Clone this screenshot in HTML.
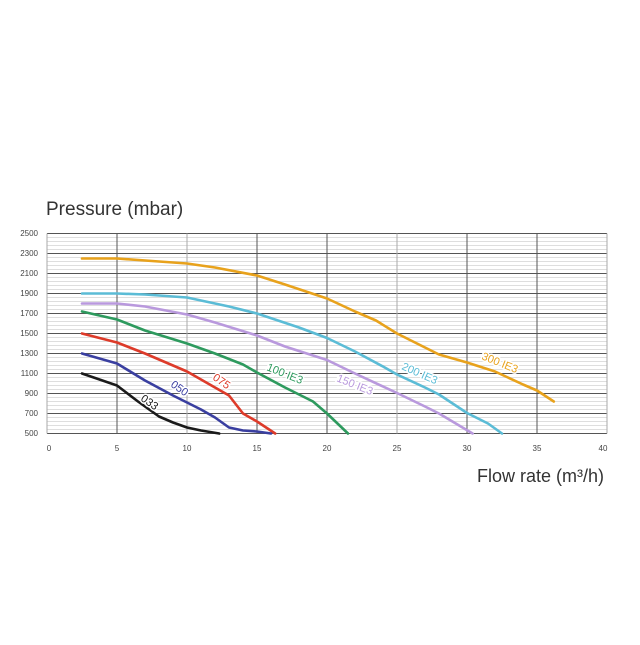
<!DOCTYPE html>
<html><head><style>
body{margin:0;background:#fff;width:640px;height:640px;overflow:hidden;font-family:"Liberation Sans",sans-serif}
</style></head><body>
<svg width="640" height="640" xmlns="http://www.w3.org/2000/svg" font-family="Liberation Sans, sans-serif">
<rect width="640" height="640" fill="#fff"/>
<text x="46" y="215" font-size="19" fill="#333">Pressure (mbar)</text>
<text x="604" y="482" font-size="18" fill="#333" text-anchor="end">Flow rate (m³/h)</text>
<g id="minor" stroke="#d4d4d4" stroke-width="0.8">
<path d="M47 237.5H607M47 241.5H607M47 245.5H607M47 249.5H607M47 257.5H607M47 261.5H607M47 265.5H607M47 269.5H607M47 277.5H607M47 281.5H607M47 285.5H607M47 289.5H607M47 297.5H607M47 301.5H607M47 305.5H607M47 309.5H607M47 317.5H607M47 321.5H607M47 325.5H607M47 329.5H607M47 337.5H607M47 341.5H607M47 345.5H607M47 349.5H607M47 357.5H607M47 361.5H607M47 365.5H607M47 369.5H607M47 377.5H607M47 381.5H607M47 385.5H607M47 389.5H607M47 397.5H607M47 401.5H607M47 405.5H607M47 409.5H607M47 417.5H607M47 421.5H607M47 425.5H607M47 429.5H607"/>
</g>
<g stroke="#555" stroke-width="1">
<path d="M47 233.5H607M47 253.5H607M47 273.5H607M47 293.5H607M47 313.5H607M47 333.5H607M47 353.5H607M47 373.5H607M47 393.5H607M47 413.5H607M47 433.5H607"/>
<path d="M117 233.5V433.5M257 233.5V433.5M327 233.5V433.5M467 233.5V433.5M537 233.5V433.5"/>
</g>
<g stroke="#aaa" stroke-width="1"><path d="M47 233.5V433.5M187 233.5V433.5M397 233.5V433.5M607 233.5V433.5"/></g>
<g font-size="8" fill="#444" text-anchor="end">
<text x="38" y="236">2500</text><text x="38" y="256">2300</text><text x="38" y="276">2100</text><text x="38" y="296">1900</text><text x="38" y="316">1700</text><text x="38" y="336">1500</text><text x="38" y="356">1300</text><text x="38" y="376">1100</text><text x="38" y="396">900</text><text x="38" y="416">700</text><text x="38" y="436">500</text>
</g>
<g font-size="8" fill="#444" text-anchor="middle">
<text x="49" y="451">0</text><text x="117" y="451">5</text><text x="187" y="451">10</text><text x="257" y="451">15</text><text x="327" y="451">20</text><text x="397" y="451">25</text><text x="467" y="451">30</text><text x="537" y="451">35</text><text x="603" y="451">40</text>
</g>
<g transform="translate(47,483.5) scale(14,-0.1)" fill="none" stroke-width="2.6" stroke-linejoin="round" stroke-linecap="round">
<polyline vector-effect="non-scaling-stroke" stroke="#e8a21c" points="2.5,2250 5,2250 8,2220 10,2200 12,2160 15,2080 17,1990 20,1850 22,1720 23.5,1630 25,1500 27,1360 28,1290 30,1210 32,1120 34,990 35,930 36.2,820"/>
<polyline vector-effect="non-scaling-stroke" stroke="#5bbcd6" points="2.5,1900 5,1900 7,1890 10,1860 13,1770 15,1700 18,1560 20,1455 22,1320 24,1170 25,1090 27,960 28,890 30,705 31.5,600 32.5,500"/>
<polyline vector-effect="non-scaling-stroke" stroke="#b999dd" points="2.5,1800 5,1800 7,1770 10,1690 12,1610 15,1480 17,1370 20,1235 22,1100 25,905 27,770 28,700 30.4,500"/>
<polyline vector-effect="non-scaling-stroke" stroke="#2e9a5e" points="2.5,1720 5,1640 7,1530 10,1400 12,1300 14,1190 15,1110 17,960 19,820 20,700 21.5,500"/>
<polyline vector-effect="non-scaling-stroke" stroke="#dd3b2a" points="2.5,1500 5,1410 7,1300 10,1120 12,960 13,880 14,700 15,620 16.3,500"/>
<polyline vector-effect="non-scaling-stroke" stroke="#3a3fa0" points="2.5,1300 5,1200 7,1030 9,880 11,740 12,660 13,560 14,530 15,520 16,500"/>
<polyline vector-effect="non-scaling-stroke" stroke="#1a1a1a" points="2.5,1100 5,980 6.5,820 7.5,720 8,670 9,610 10,560 11,530 12.3,500"/>
</g>
<g font-size="11">
<text transform="translate(140,400) rotate(35)" fill="#1a1a1a" stroke="#fff" stroke-width="3" paint-order="stroke">033</text>
<text transform="translate(170,386) rotate(35)" fill="#3a3fa0" stroke="#fff" stroke-width="3" paint-order="stroke">050</text>
<text transform="translate(212,379) rotate(35)" fill="#dd3b2a" stroke="#fff" stroke-width="3" paint-order="stroke">075</text>
<text transform="translate(266,370) rotate(22)" fill="#2e9a5e" stroke="#fff" stroke-width="3" paint-order="stroke">100 IE3</text>
<text transform="translate(336,381) rotate(22)" fill="#b999dd" stroke="#fff" stroke-width="3" paint-order="stroke">150 IE3</text>
<text transform="translate(401,369) rotate(24)" fill="#5bbcd6" stroke="#fff" stroke-width="3" paint-order="stroke">200 IE3</text>
<text transform="translate(481,359) rotate(22)" fill="#e8a21c" stroke="#fff" stroke-width="3" paint-order="stroke">300 IE3</text>
</g>
</svg>
</body></html>
